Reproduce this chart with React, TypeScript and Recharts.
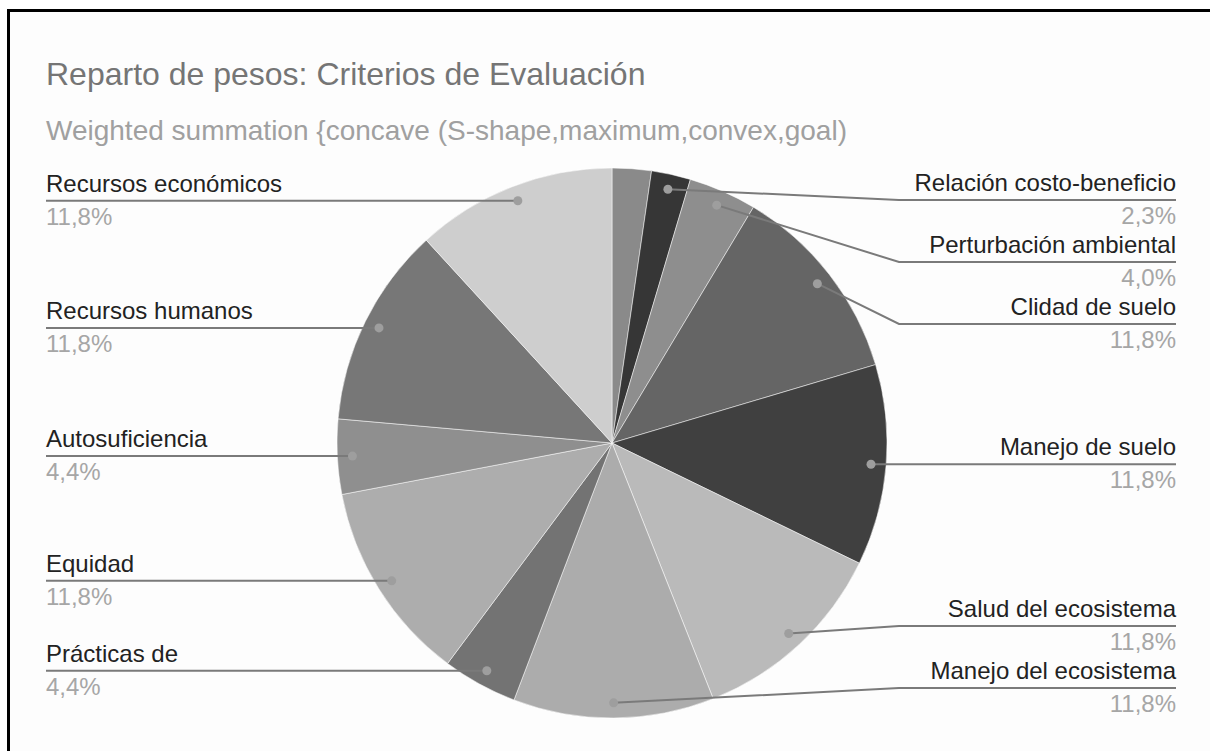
import { PieChart, Pie, Cell } from 'recharts';

// criterios en el orden de la tarta, empezando arriba y en sentido horario
const criterios = [
  '',
  'Relación costo-beneficio',
  'Perturbación ambiental',
  'Clidad de suelo',
  'Manejo de suelo',
  'Salud del ecosistema',
  'Manejo del ecosistema',
  'Prácticas de',
  'Equidad',
  'Autosuficiencia',
  'Recursos humanos',
  'Recursos económicos',
];
const pesos = [2.3, 2.3, 4.0, 11.8, 11.8, 11.8, 11.8, 4.4, 11.8, 4.4, 11.8, 11.8];
const grises = [
  '#8a8a8a', '#363636', '#8e8e8e', '#656565', '#404040', '#bababa',
  '#acacac', '#737373', '#adadad', '#8f8f8f', '#777777', '#cecece',
];

const data = criterios.map((name, i) => ({ name, value: pesos[i] }));

const W = 1210;
const H = 751;
const CX = 612;
const CY = 443;
const R = 275;
const DOT = 0.945;
const TOP = 200;
const BOTTOM = 688;
const GAP = 62;
const LEFT_X = 46;
const RIGHT_X = 1176;
const FONT = '"Liberation Sans", Arial, sans-serif';

// height of each label line: start at the dot, then push labels apart per side
const lineY: Record<number, number> = (() => {
  const total = pesos.reduce((a, b) => a + b, 0);
  let acc = 0;
  const items = pesos.map((v, i) => {
    const mid = (90 - ((acc + v / 2) / total) * 360) * Math.PI / 180;
    acc += v;
    return { i, y: CY - R * DOT * Math.sin(mid), right: Math.cos(mid) >= 0 };
  }).filter(it => criterios[it.i]);
  const out: Record<number, number> = {};
  [true, false].forEach(side => {
    const list = items.filter(it => it.right === side).sort((a, b) => a.y - b.y);
    const pos = list.map(it => Math.min(BOTTOM, Math.max(TOP, it.y)));
    for (let k = 1; k < pos.length; k++) pos[k] = Math.max(pos[k], pos[k - 1] + GAP);
    for (let k = pos.length - 1; k >= 0; k--) {
      pos[k] = k === pos.length - 1 ? Math.min(pos[k], BOTTOM) : Math.min(pos[k], pos[k + 1] - GAP);
    }
    list.forEach((it, k) => { out[it.i] = pos[k]; });
  });
  return out;
})();

const renderLabel = (props: any) => {
  const { cx, cy, midAngle, outerRadius, percent, index, name } = props;
  if (!name) return null;
  const rad = Math.PI / 180;
  const dx = cx + outerRadius * DOT * Math.cos(-midAngle * rad);
  const dy = cy + outerRadius * DOT * Math.sin(-midAngle * rad);
  const right = dx >= cx;
  const ly = lineY[index];
  const endX = right ? RIGHT_X : LEFT_X;
  const bendX = right ? cx + outerRadius + 12 : cx - outerRadius - 12;
  const pts = Math.abs(ly - dy) < 1.5
    ? `${dx},${dy} ${endX},${dy}`
    : `${dx},${dy} ${bendX},${ly} ${endX},${ly}`;
  const anchor = right ? 'end' : 'start';
  const pct = (percent * 100).toFixed(1).replace('.', ',') + '%';
  const y = Math.abs(ly - dy) < 1.5 ? dy : ly;
  return (
    <g>
      <polyline points={pts} fill="none" stroke="#7a7a7a" strokeWidth={2} />
      <circle cx={dx} cy={dy} r={4.5} fill="#9e9e9e" />
      <text x={endX} y={y - 9} textAnchor={anchor} fontSize={24} fill="#222222" fontFamily={FONT}>
        {name}
      </text>
      <text x={endX} y={y + 24} textAnchor={anchor} fontSize={24} fill="#a6a6a6" fontFamily={FONT}>
        {pct}
      </text>
    </g>
  );
};

export default function App() {
  return (
    <div style={{ position: 'fixed', left: 0, top: 0, width: W, height: H, overflow: 'hidden', background: '#fff' }}>
      <div
        style={{
          position: 'absolute', left: 7, top: 9, right: -10, bottom: -10,
          borderLeft: '3px solid #000', borderTop: '3px solid #000', background: '#fdfdfd',
        }}
      />
      <div
        style={{
          position: 'absolute', left: 46, top: 58, fontFamily: FONT, fontSize: 32,
          lineHeight: '32px', color: '#757575', whiteSpace: 'nowrap',
        }}
      >
        Reparto de pesos: Criterios de Evaluación
      </div>
      <div
        style={{
          position: 'absolute', left: 46, top: 117, fontFamily: FONT, fontSize: 28,
          lineHeight: '28px', color: '#a0a0a0', whiteSpace: 'nowrap',
        }}
      >
        Weighted summation {'{'}concave (S-shape,maximum,convex,goal)
      </div>
      <div style={{ position: 'absolute', left: 0, top: 0 }}>
        <PieChart width={W} height={H} margin={{ top: 0, right: 0, bottom: 0, left: 0 }}>
          <Pie
            data={data}
            dataKey="value"
            nameKey="name"
            cx={CX}
            cy={CY}
            outerRadius={R}
            startAngle={90}
            endAngle={-270}
            stroke="#ffffff"
            strokeWidth={0.5}
            label={renderLabel}
            labelLine={false}
            isAnimationActive={false}
          >
            {data.map((d, i) => (
              <Cell key={d.name + i} fill={grises[i]} />
            ))}
          </Pie>
        </PieChart>
      </div>
    </div>
  );
}
